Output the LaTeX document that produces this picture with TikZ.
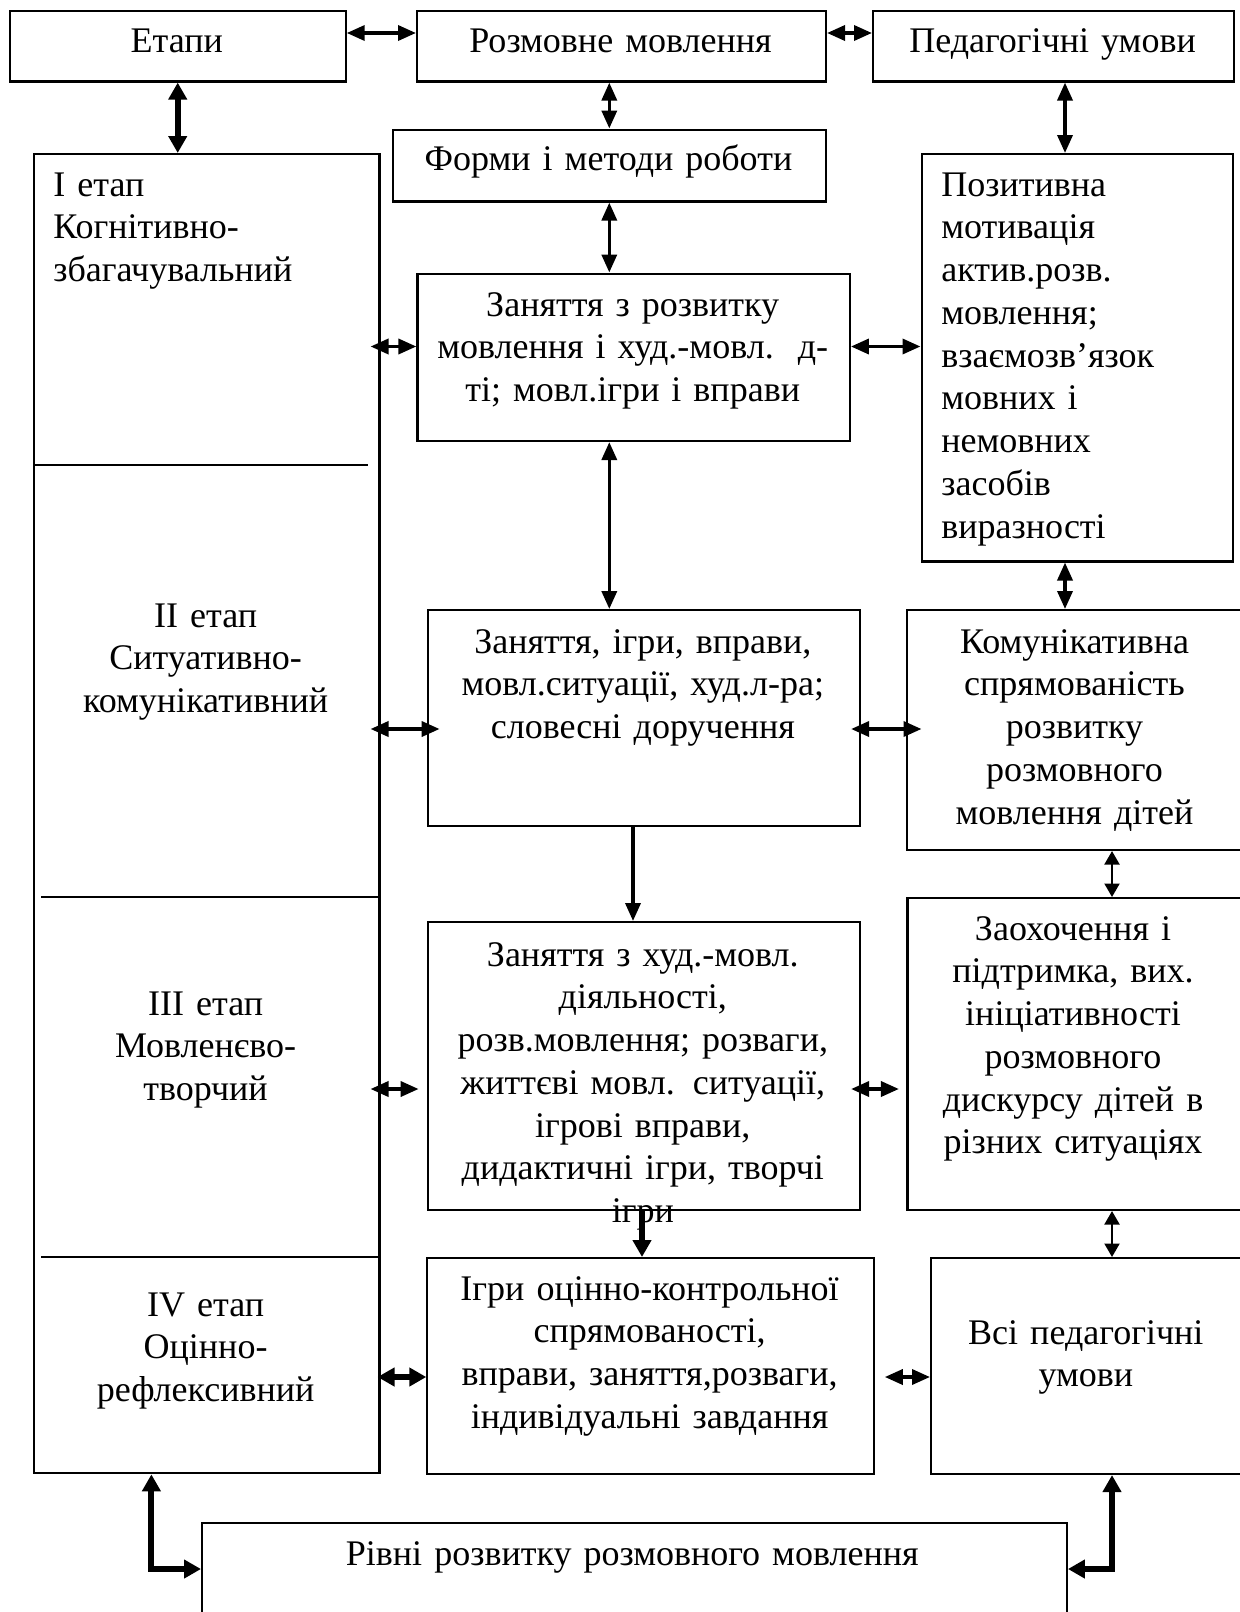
\documentclass[tikz,border=0pt]{standalone}
\usepackage{fontspec}
\setmainfont{Liberation Serif}
\usetikzlibrary{arrows.meta,calc}

\begin{document}
\begin{tikzpicture}[x=0.02cm,y=-0.02cm,
  font=\fontsize{20.5pt}{24.35pt}\selectfont,
  blk/.style={draw,line width=1.2pt,anchor=north west,inner sep=0pt},
  txt/.style={anchor=base,align=center,inner sep=0pt,text width=#1},
  txt/.default=8.4cm,
  ltxt/.style={anchor=base west,align=left,inner sep=0pt,text width=6cm},
  arr/.style={line width=2pt,{Triangle[length=0.36cm,width=0.3cm]}-{Triangle[length=0.36cm,width=0.3cm]}},
  arrb/.style={line width=3.4pt,{Triangle[length=0.34cm,width=0.36cm]}-{Triangle[length=0.34cm,width=0.36cm]}},
  arrs/.style={line width=1.2pt,{Triangle[length=0.27cm,width=0.3cm]}-{Triangle[length=0.27cm,width=0.3cm]}}]
\useasboundingbox (0,0) rectangle (1240,1612);
% --- boxes ---
\node[blk,minimum width=6.72cm,minimum height=1.41cm] (etapy) at (8.7,10) {};
\node[blk,minimum width=8.18cm,minimum height=1.41cm] (rozm) at (416,10) {};
\node[blk,minimum width=7.22cm,minimum height=1.41cm] (ped) at (872,10) {};
\node[blk,minimum width=8.66cm,minimum height=1.44cm] (formy) at (392,128.5) {};
\node[blk,minimum width=6.91cm,minimum height=26.39cm] (stages) at (33,153) {};
\node[blk,minimum width=8.65cm,minimum height=3.35cm] (zan1) at (416.4,272.5) {};
\node[blk,minimum width=6.23cm,minimum height=8.15cm] (poz) at (920.5,153) {};
\node[blk,minimum width=8.65cm,minimum height=4.32cm] (zan2) at (426.6,609) {};
\node[blk,minimum width=6.8cm,minimum height=4.8cm] (kom) at (906,609) {};
\node[blk,minimum width=8.65cm,minimum height=5.76cm] (zan3) at (426.6,921) {};
\node[blk,minimum width=6.8cm,minimum height=6.24cm] (zaoh) at (906.4,897) {};
\node[blk,minimum width=8.93cm,minimum height=4.32cm] (igry) at (426.3,1257) {};
\node[blk,minimum width=6.4cm,minimum height=4.32cm] (vsi) at (930,1257) {};
\node[blk,minimum width=17.3cm,minimum height=2.4cm] (rivni) at (201,1521.7) {};
% stage dividers
\draw[line width=1.2pt] (34,464.7) -- (368,464.7);
\draw[line width=1.2pt] (41,896.6) -- (378.5,896.6);
\draw[line width=1.2pt] (41,1257) -- (378.5,1257);
% --- texts ---
\node[txt] (etapyT) at (176.7,53) {Етапи};
\node[txt] (rozmT) at (620.5,53) {Розмовне мовлення};
\node[txt] (pedT) at (1052.5,53) {Педагогічні умови};
\node[txt] (formyT) at (608.5,171) {Форми і методи роботи};
\node[ltxt] (st1T) at (53,196) {I етап\\Когнітивно-\\збагачувальний};
\node[txt=6.8cm] (st2T) at (205.6,627) {II етап\\Ситуативно-\\комунікативний};
\node[txt=6.8cm] (st3T) at (205.6,1015) {III етап\\Мовленєво-\\творчий};
\node[txt=6.8cm] (st4T) at (205.6,1316) {IV етап\\Оцінно-\\рефлексивний};
\node[txt] (zan1T) at (632.7,316) {Заняття з розвитку\\мовлення і худ.-мовл.~~д-\\ті; мовл.ігри і вправи};
\node[ltxt] (pozT) at (941,196) {Позитивна\\мотивація\\актив.розв.\\мовлення;\\взаємозв’язок\\мовних і\\немовних\\засобів\\виразності};
\node[txt] (zan2T) at (642.8,653) {Заняття, ігри, вправи,\\мовл.ситуації, худ.л-ра;\\словесні доручення};
\node[txt=6.6cm] (komT) at (1074.5,653) {Комунікативна\\спрямованість\\розвитку\\розмовного\\мовлення дітей};
\node[txt] (zan3T) at (642.8,966) {Заняття з худ.-мовл.\\діяльності,\\розв.мовлення; розваги,\\життєві мовл. ситуації,\\ігрові вправи,\\дидактичні ігри, творчі\\ігри};
\node[txt=6.6cm] (zaohT) at (1073,940) {Заохочення і\\підтримка, вих.\\ініціативності\\розмовного\\дискурсу дітей в\\різних ситуаціях};
\node[txt] (igryT) at (649.6,1300) {Ігри оцінно-контрольної\\спрямованості,\\вправи, заняття,розваги,\\індивідуальні завдання};
\node[txt=6.2cm] (vsiT) at (1085.8,1344) {Всі педагогічні\\умови};
\node[txt=16cm] (rivniT) at (632.3,1565) {Рівні розвитку розмовного мовлення};
% --- connectors ---
\coordinate (h0) at (0,33);
\coordinate (h1) at (0,346.5);
\coordinate (h2) at (0,729);
\coordinate (h3) at (0,1089);
\coordinate (h4) at (0,1377);
\coordinate (h5) at (0,1569);
\coordinate (v1) at (151.4,0);
\coordinate (v2) at (609.3,0);
\coordinate (v3) at (1065,0);
\coordinate (v4) at (1112,0);
\coordinate (v5) at (633,0);
\coordinate (v6) at (642,0);
\draw[arr] (etapy.east |- h0) -- (rozm.west |- h0);
\draw[arr] (rozm.east |- h0) -- (ped.west |- h0);
\draw[arrb] (etapy.south) -- (etapy.south |- stages.north);
\draw[arr] (v2 |- rozm.south) -- (v2 |- formy.north);
\draw[arr] (v3 |- ped.south) -- (v3 |- poz.north);
\draw[arr] (v2 |- formy.south) -- (v2 |- zan1.north);
\draw[arr,shorten <=-0.2cm] (stages.east |- h1) -- (zan1.west |- h1);
\draw[arr] (zan1.east |- h1) -- (poz.west |- h1);
\draw[arr] (v2 |- zan1.south) -- (v2 |- zan2.north);
\draw[arr,shorten <=-0.2cm,shorten >=-0.26cm] (stages.east |- h2) -- (zan2.west |- h2);
\draw[arr,shorten <=-0.2cm,shorten >=-0.31cm] (zan2.east |- h2) -- (kom.west |- h2);
\draw[arr] (v3 |- poz.south) -- (v3 |- kom.north);
\draw[arr,-{Triangle[length=0.36cm,width=0.3cm]}] (v5 |- zan2.south) -- (v5 |- zan3.north);
\draw[arr,shorten <=-0.2cm,shorten >=0.16cm] (stages.east |- h3) -- (zan3.west |- h3);
\draw[arr,shorten <=-0.2cm,shorten >=0.15cm] (zan3.east |- h3) -- (zaoh.west |- h3);
\draw[arrs] (v4 |- kom.south) -- (v4 |- zaoh.north);
\draw[arrb,-{Triangle[length=0.34cm,width=0.36cm]}] (v6 |- zan3.south) -- (v6 |- igry.north);
\draw[arrs] (v4 |- zaoh.south) -- (v4 |- vsi.north);
\draw[arrb,shorten <=-0.06cm] (stages.east |- h4) -- (igry.west |- h4);
\draw[arr,shorten <=0.2cm] (igry.east |- h4) -- (vsi.west |- h4);
\draw[arrb] (v1 |- stages.south) -- (v1 |- h5) -- (rivni.west |- h5);
\draw[arrb] (v4 |- vsi.south) -- (v4 |- h5) -- (rivni.east |- h5);
\end{tikzpicture}
\end{document}
